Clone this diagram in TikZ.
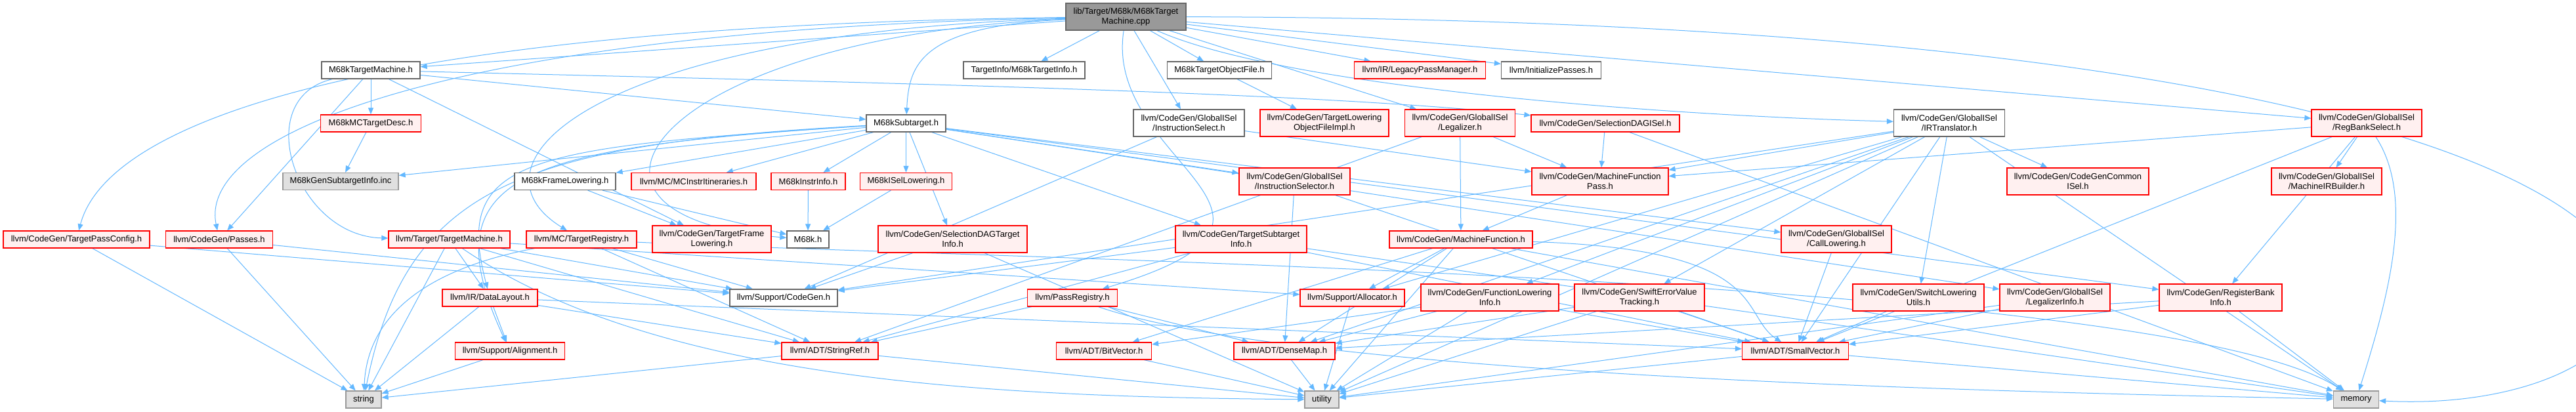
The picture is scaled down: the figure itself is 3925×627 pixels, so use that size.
\documentclass[tikz,border=0pt]{standalone}
\usepackage{fontspec}
\setmainfont{Liberation Sans}
\usepackage{xcolor}
\usetikzlibrary{arrows.meta,backgrounds}

\definecolor{edgeblue}{HTML}{63B8FF}
\definecolor{redfill}{HTML}{FFF0F0}
\definecolor{sysfill}{HTML}{E0E0E0}
\definecolor{sysline}{HTML}{999999}
\definecolor{hdrline}{HTML}{666666}
\definecolor{cppfill}{HTML}{999999}

\begin{document}
\begin{tikzpicture}[
  x=1pt,
  y=-1pt,
  box/.style={draw, rectangle, align=center, inner sep=0pt, line width=1.3pt,
    font=\fontsize{13}{14.7}\selectfont},
  sz/.style 2 args={minimum width=#1pt, minimum height=#2pt},
  cpp/.style={box, draw=hdrline, fill=cppfill},
  hdr/.style={box, draw=hdrline, fill=white},
  part/.style={box, draw=red, fill=redfill},
  sys/.style={box, draw=sysline, fill=sysfill},
  dep/.style={draw=edgeblue, line width=1pt, -{Triangle[length=10pt,width=8pt]}}
]
  \useasboundingbox (0,0) rectangle (3925,627);

  % top and second row
  \node[cpp, sz={183}{41}] (main) at (1715.5,25.5) {lib/Target/M68k/M68kTarget\\Machine.cpp};
  \node[hdr, sz={150}{26}] (tm) at (565,107) {M68kTargetMachine.h};
  \node[hdr, sz={185}{26}] (tinfo) at (1560.5,107) {TargetInfo/M68kTargetInfo.h};
  \node[hdr, sz={159}{26}] (tobj) at (1858,107) {M68kTargetObjectFile.h};
  \node[part, sz={200}{26}] (lpm) at (2163.5,107) {llvm/IR/LegacyPassManager.h};
  \node[hdr, sz={152}{26}] (initp) at (2363.5,107) {llvm/InitializePasses.h};

  % third row
  \node[part, sz={153}{26}] (mcdesc) at (565,188) {M68kMCTargetDesc.h};
  \node[hdr, sz={121}{26}] (sub) at (1380.5,188) {M68kSubtarget.h};
  \node[hdr, sz={169}{41}] (isel) at (1811.5,187.5) {llvm/CodeGen/GlobalISel\\/InstructionSelect.h};
  \node[part, sz={196}{41}] (tlof) at (2018,187.5) {llvm/CodeGen/TargetLowering\\ObjectFileImpl.h};
  \node[part, sz={168}{41}] (legal) at (2224.5,187.5) {llvm/CodeGen/GlobalISel\\/Legalizer.h};
  \node[part, sz={226}{26}] (dagisel) at (2446,188) {llvm/CodeGen/SelectionDAGISel.h};
  \node[hdr, sz={169}{41}] (irt) at (2970,187.5) {llvm/CodeGen/GlobalISel\\/IRTranslator.h};
  \node[part, sz={168}{41}] (rbs) at (3606,187.5) {llvm/CodeGen/GlobalISel\\/RegBankSelect.h};

  % fourth row
  \node[sys, sz={176}{26}] (gensub) at (519,276.5) {M68kGenSubtargetInfo.inc};
  \node[hdr, sz={154}{26}] (frame) at (861,276.5) {M68kFrameLowering.h};
  \node[part, sz={190}{26}] (itin) at (1057,276.5) {llvm/MC/MCInstrItineraries.h};
  \node[part, sz={113}{26}] (instr) at (1231.5,276.5) {M68kInstrInfo.h};
  \node[part, sz={140}{26}] (isell) at (1380.5,276.5) {M68kISelLowering.h};
  \node[part, sz={169}{41}] (iselector) at (1972.5,276.5) {llvm/CodeGen/GlobalISel\\/InstructionSelector.h};
  \node[part, sz={208}{41}] (mfp) at (2438,276.5) {llvm/CodeGen/MachineFunction\\Pass.h};
  \node[part, sz={216}{41}] (cgcisel) at (3166,276.5) {llvm/CodeGen/CodeGenCommon\\ISel.h};
  \node[part, sz={168}{41}] (mirb) at (3545,276.5) {llvm/CodeGen/GlobalISel\\/MachineIRBuilder.h};

  % fifth row
  \node[part, sz={223}{26}] (tpc) at (116.5,365) {llvm/CodeGen/TargetPassConfig.h};
  \node[part, sz={163}{26}] (passes) at (334,365) {llvm/CodeGen/Passes.h};
  \node[part, sz={185}{26}] (tmach) at (684.5,365) {llvm/Target/TargetMachine.h};
  \node[part, sz={168}{26}] (treg) at (886,365) {llvm/MC/TargetRegistry.h};
  \node[part, sz={181}{41}] (tfl) at (1084.5,364.5) {llvm/CodeGen/TargetFrame\\Lowering.h};
  \node[hdr, sz={64}{26}] (m68k) at (1231,365) {M68k.h};
  \node[part, sz={227}{41}] (sdti) at (1451.5,364.5) {llvm/CodeGen/SelectionDAGTarget\\Info.h};
  \node[part, sz={200}{41}] (tsi) at (1891,364.5) {llvm/CodeGen/TargetSubtarget\\Info.h};
  \node[part, sz={218}{26}] (mf) at (2226,365) {llvm/CodeGen/MachineFunction.h};
  \node[part, sz={168}{41}] (calllow) at (2798,364.5) {llvm/CodeGen/GlobalISel\\/CallLowering.h};

  % sixth row
  \node[part, sz={145}{26}] (dl) at (746.5,454) {llvm/IR/DataLayout.h};
  \node[hdr, sz={164}{26}] (codegen) at (1194,454) {llvm/Support/CodeGen.h};
  \node[part, sz={137}{26}] (preg) at (1634,454) {llvm/PassRegistry.h};
  \node[part, sz={159}{26}] (alloc) at (2060.5,454) {llvm/Support/Allocator.h};
  \node[part, sz={210}{41}] (fli) at (2270,453.5) {llvm/CodeGen/FunctionLowering\\Info.h};
  \node[part, sz={198}{41}] (swift) at (2498,453.5) {llvm/CodeGen/SwiftErrorValue\\Tracking.h};
  \node[part, sz={200}{41}] (switchlow) at (2923,453.5) {llvm/CodeGen/SwitchLowering\\Utils.h};
  \node[part, sz={168}{41}] (legalinfo) at (3131,453.5) {llvm/CodeGen/GlobalISel\\/LegalizerInfo.h};
  \node[part, sz={187}{41}] (rbinfo) at (3383.5,453.5) {llvm/CodeGen/RegisterBank\\Info.h};

  % seventh row
  \node[part, sz={167}{26}] (align) at (777,535) {llvm/Support/Alignment.h};
  \node[part, sz={147}{26}] (stringref) at (1264.5,535) {llvm/ADT/StringRef.h};
  \node[part, sz={145}{26}] (bitvec) at (1682,535) {llvm/ADT/BitVector.h};
  \node[part, sz={154}{26}] (densemap) at (1957,535) {llvm/ADT/DenseMap.h};
  \node[part, sz={162}{26}] (smallvec) at (2735.5,535) {llvm/ADT/SmallVector.h};

  % system headers
  \node[sys, sz={54}{26}] (string) at (554,609) {string};
  \node[sys, sz={52}{26}] (utility) at (2014,609) {utility};
  \node[sys, sz={69}{26}] (memory) at (3590,609) {memory};

  \begin{scope}[on background layer]
    \fill[white] (0,0) rectangle (3925,627);
    \foreach \a/\b in {main/tm, main/tinfo, main/tobj, main/lpm, main/initp, main/isel,
      main/legal, main/rbs, tm/sub, tm/mcdesc, tm/passes, tm/tfl, mcdesc/gensub,
      sub/frame, sub/isell, sub/instr, sub/itin, sub/gensub, sub/calllow, sub/iselector,
      sub/legalinfo, sub/rbinfo, sub/sdti, sub/tsi, tobj/tlof, frame/m68k, frame/tfl,
      isell/m68k, instr/m68k, tpc/codegen, tpc/string, passes/codegen, passes/string,
      tmach/stringref, tmach/dl, tmach/codegen, tmach/string, tmach/alloc,
      treg/stringref, treg/codegen, dl/smallvec, dl/stringref, dl/align, dl/string,
      align/string, stringref/string, stringref/utility, bitvec/utility, densemap/utility,
      smallvec/utility, smallvec/memory, alloc/utility, preg/densemap, preg/stringref,
      mf/bitvec, mf/densemap, mf/alloc, mf/memory, mf/utility, mfp/mf,
      dagisel/mfp, dagisel/memory, legal/mfp, legal/mf, legal/stringref,
      isel/mfp, isel/codegen, irt/densemap, irt/smallvec, irt/cgcisel, irt/fli,
      irt/mfp, irt/swift, irt/switchlow, irt/alloc, irt/codegen, irt/memory, irt/utility,
      rbs/smallvec, rbs/mirb, rbs/mfp, rbs/rbinfo, tsi/smallvec, tsi/stringref,
      tsi/codegen, tsi/memory, sdti/codegen, sdti/utility, iselector/densemap,
      iselector/smallvec, calllow/smallvec, fli/bitvec, fli/densemap, fli/smallvec,
      fli/utility, swift/densemap, swift/smallvec, swift/utility, switchlow/smallvec,
      legalinfo/smallvec, legalinfo/utility, rbinfo/densemap, rbinfo/smallvec,
      rbinfo/memory}
      \draw[dep] (\a) -- (\b);

    % routed edges
    \draw[dep] (main) .. controls (1400,40) and (1385,100) .. (sub);
    \draw[dep] (main) .. controls (1950,130) and (2500,175) .. (irt);
    \draw[dep] (main) .. controls (500,40) and (160,200) .. (tpc);
    \draw[dep] (main) .. controls (700,45) and (300,200) .. (passes);
    \draw[dep] (main) .. controls (900,50) and (700,250) .. (treg);
    \draw[dep] (main) .. controls (1000,55) and (800,330) .. (m68k);
    \draw[dep] (main) .. controls (4450,30) and (4200,640) .. (memory);
    \draw[dep] (main) .. controls (1680,250) and (2050,330) .. (preg);
    \draw[dep] (tm) .. controls (380,150) and (450,360) .. (tmach);
    \draw[dep] (tm) .. controls (1300,125) and (2000,140) .. (dagisel);
    \draw[dep] (sub) .. controls (800,225) and (690,240) .. (dl);
    \draw[dep] (sub) .. controls (800,225) and (650,260) .. (align);
    \draw[dep] (sub) .. controls (800,220) and (620,280) .. (string);
    \draw[dep] (tmach) .. controls (1000,580) and (1500,605) .. (utility);
    \draw[dep] (treg) .. controls (650,410) and (560,480) .. (string);
    \draw[dep] (treg) .. controls (1500,395) and (3300,420) .. (memory);
    \draw[dep] (preg) .. controls (2000,580) and (3200,600) .. (memory);
    \draw[dep] (mf) .. controls (2700,380) and (2650,480) .. (smallvec);
    \draw[dep] (rbs) .. controls (3680,300) and (3640,450) .. (memory);
  \end{scope}
\end{tikzpicture}
\end{document}
